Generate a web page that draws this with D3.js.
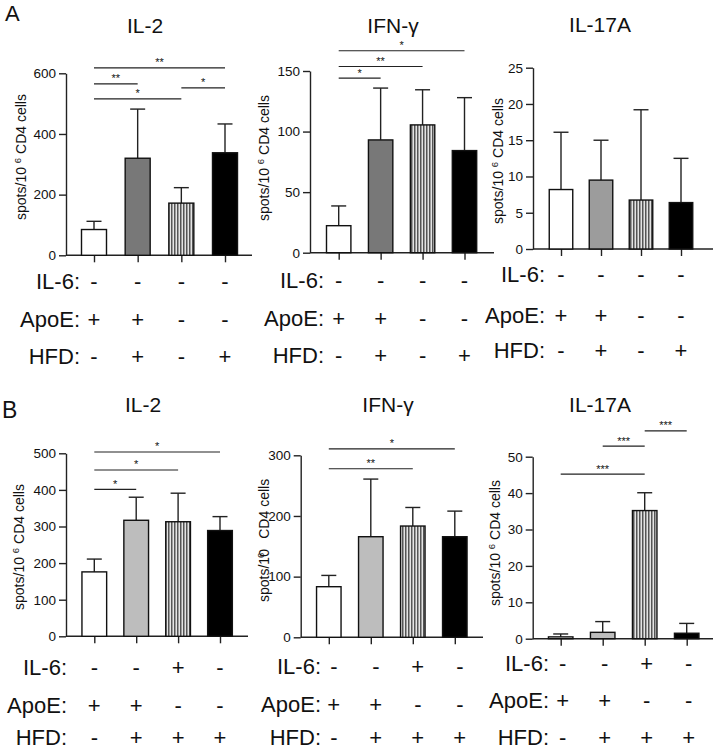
<!DOCTYPE html>
<html><head><meta charset="utf-8">
<script src="https://cdn.jsdelivr.net/npm/d3@7"></script>
<style>body{margin:0;background:#fff}svg{display:block}text{font-family:"Liberation Sans",Arial,Helvetica,sans-serif;fill:#111}</style>
</head><body>
<script>
// ---------- data ----------
const groups = ["g1", "g2", "g3", "g4"];
const titles = ["IL-2", "IFN-γ", "IL-17A"];
const rowNames = ["IL-6:", "ApoE:", "HFD:"];

const aIL2Mean = [85, 320, 172, 338];
const aIL2Sd = [27, 162, 51, 95];
const aIFNMean = [22.3, 93.1, 105.5, 84.3];
const aIFNSd = [16.3, 42.8, 29, 43.7];
const aIL17Mean = [8.2, 9.5, 6.75, 6.4];
const aIL17Sd = [7.9, 5.5, 12.45, 6.1];

const bIL2Mean = [176, 317, 313, 289];
const bIL2Sd = [35, 63, 78, 38];
const bIFNMean = [83.4, 165.8, 183.4, 165.8];
const bIFNSd = [18.6, 95, 30.6, 42.2];
const bIL17Mean = [0.5, 1.75, 35.2, 1.5];
const bIL17Sd = [0.8, 2.95, 4.9, 2.7];

const aIL2Ticks = [0, 200, 400, 600];
const aIFNTicks = [0, 50, 100, 150];
const aIL17Ticks = [0, 5, 10, 15, 20, 25];
const bIL2Ticks = [0, 100, 200, 300, 400, 500];
const bIFNTicks = [0, 100, 200, 300];
const bIL17Ticks = [0, 10, 20, 30, 40, 50];

const aIL6 = ["-", "-", "-", "-"];
const aApoE = ["+", "+", "-", "-"];
const aHFD = ["-", "+", "-", "+"];
const bIL6 = ["-", "-", "+", "-"];
const bApoE = ["+", "+", "-", "-"];
const bHFD = ["-", "+", "+", "+"];

// significance brackets: [from group, to group, height in data units, label]
const aIL2Sig = [[0, 3, 618, "**"], [0, 1, 565, "**"], [0, 2, 516, "*"], [2, 3, 552, "*"]];
const aIFNSig = [[0, 3, 166.7, "*"], [0, 2, 153.7, "**"], [0, 1, 144.1, "*"]];
const aIL17Sig = [];
const bIL2Sig = [[0, 3, 503.6, "*"], [0, 2, 454.4, "*"], [0, 1, 401.6, "*"]];
const bIFNSig = [[0, 3, 310.7, "*"], [0, 2, 277.8, "**"]];
const bIL17Sig = [[0, 2, 45.2, "***"], [1, 2, 52.9, "***"], [2, 3, 57.1, "***"]];

// ---------- layout ----------
const W = 715, H = 750;
const svg = d3.select("body").append("svg").attr("width", W).attr("height", H);
const defs = svg.append("defs");
const pat = defs.append("pattern").attr("id", "stripes").attr("patternUnits", "userSpaceOnUse")
  .attr("width", 3).attr("height", 10);
pat.append("rect").attr("width", 3).attr("height", 10).attr("fill", "#e4e4e4");
pat.append("rect").attr("width", 1.5).attr("height", 10).attr("fill", "#555");

const charts = [
  {title: titles[0], mean: aIL2Mean, sd: aIL2Sd, ticks: aIL2Ticks, sig: aIL2Sig, rows: [aIL6, aApoE, aHFD],
   ax: 66, y0: 255.3, yTop: 73.3, c1: 94, c4: 225, bw: 25, xEnd: 252, fill2: "#787878",
   titleX: 145, titleY: 33, ylab: {x: 26, y: 157}, labEnd: 80, signDx: 0, rowY: [289, 327, 363.5]},
  {title: titles[1], mean: aIFNMean, sd: aIFNSd, ticks: aIFNTicks, sig: aIFNSig, rows: [aIL6, aApoE, aHFD],
   ax: 310, y0: 252.7, yTop: 71, c1: 338.7, c4: 464.5, bw: 24.4, xEnd: 494, fill2: "#787878",
   titleX: 393, titleY: 33, ylab: {x: 269, y: 158}, labEnd: 324, signDx: 0, rowY: [288, 326, 362.5]},
  {title: titles[2], mean: aIL17Mean, sd: aIL17Sd, ticks: aIL17Ticks, sig: aIL17Sig, rows: [aIL6, aApoE, aHFD],
   ax: 533, y0: 249, yTop: 67.7, c1: 561, c4: 681, bw: 23.5, xEnd: 713, fill2: "#9c9c9c",
   titleX: 600, titleY: 32, ylab: {x: 503, y: 161}, labEnd: 545, signDx: 0, rowY: [281.5, 322.5, 357.5]},
  {title: titles[0], mean: bIL2Mean, sd: bIL2Sd, ticks: bIL2Ticks, sig: bIL2Sig, rows: [bIL6, bApoE, bHFD],
   ax: 66, y0: 636.3, yTop: 453.3, c1: 94.3, c4: 220, bw: 24.7, xEnd: 248, fill2: "#bdbdbd",
   titleX: 143, titleY: 412, ylab: {x: 24, y: 547}, labEnd: 67, signDx: 0, rowY: [675, 712.5, 745]},
  {title: titles[1], mean: bIFNMean, sd: bIFNSd, ticks: bIFNTicks, sig: bIFNSig, rows: [bIL6, bApoE, bHFD],
   ax: 300.7, y0: 637.3, yTop: 455.3, c1: 328.8, c4: 454.8, bw: 24.5, xEnd: 483, fill2: "#bdbdbd",
   titleX: 388, titleY: 412, ylab: {x: 269, y: 602, broken: true}, labEnd: 321, signDx: 5, rowY: [674, 711.5, 745]},
  {title: titles[2], mean: bIL17Mean, sd: bIL17Sd, ticks: bIL17Ticks, sig: bIL17Sig, rows: [bIL6, bApoE, bHFD],
   ax: 532.7, y0: 638.7, yTop: 456.7, c1: 560.7, c4: 686.7, bw: 24.5, xEnd: 713, fill2: "#bdbdbd",
   titleX: 600, titleY: 412, ylab: {x: 500, y: 543}, labEnd: 549, signDx: 2, rowY: [671, 708, 744.5]}
];

const ink = "#222";

charts.forEach(c => {
  const yMax = c.ticks[c.ticks.length - 1];
  const y = d3.scaleLinear().domain([0, yMax]).range([c.y0, c.yTop]);
  const x = d3.scalePoint().domain(groups).range([c.c1, c.c4]);
  const g = svg.append("g");
  const fills = ["#ffffff", c.fill2, "url(#stripes)", "#000000"];

  // title
  g.append("text").attr("x", c.titleX).attr("y", c.titleY).attr("text-anchor", "middle")
    .attr("font-size", 21).text(c.title);

  // y axis
  const yAxis = d3.axisLeft(y).tickValues(c.ticks).tickSize(7).tickPadding(3).tickSizeOuter(0);
  const ga = g.append("g").attr("transform", `translate(${c.ax},0)`).call(yAxis);
  ga.selectAll("path, line").attr("stroke", ink).attr("stroke-width", 1.4);
  ga.selectAll("text").attr("font-size", 13.5).attr("fill", "#111")
    .attr("font-family", '"Liberation Sans",Arial,sans-serif');

  // x axis
  g.append("line").attr("x1", c.ax).attr("x2", c.xEnd).attr("y1", c.y0).attr("y2", c.y0)
    .attr("stroke", ink).attr("stroke-width", 1.4);
  const xAxis = d3.axisBottom(x).tickSize(7).tickFormat("");
  const gx = g.append("g").attr("transform", `translate(0,${c.y0})`).call(xAxis);
  gx.select(".domain").remove();
  gx.selectAll("line").attr("stroke", ink).attr("stroke-width", 1.4);

  // y label
  const yl = g.append("text").attr("font-size", 14)
    .attr("transform", `translate(${c.ylab.x},${c.ylab.y}) rotate(-90)`);
  if (c.ylab.broken) {
    yl.attr("text-anchor", "start");
    yl.append("tspan").text("spots/10");
    yl.append("tspan").attr("dx", -9).attr("dy", -5).attr("font-size", 9.5).text("6");
    yl.append("tspan").attr("dx", 14).attr("dy", 5).text("CD4 cells");
  } else {
    yl.attr("text-anchor", "middle");
    yl.append("tspan").text("spots/10 ");
    yl.append("tspan").attr("dy", -5).attr("font-size", 9.5).text("6");
    yl.append("tspan").attr("dy", 5).text(" CD4 cells");
  }

  // error bars (upper)
  g.selectAll(".err").data(groups).join("g").each(function (d, i) {
    const e = d3.select(this);
    const top = y(c.mean[i] + c.sd[i]);
    e.append("line").attr("x1", x(d)).attr("x2", x(d)).attr("y1", y(c.mean[i])).attr("y2", top)
      .attr("stroke", ink).attr("stroke-width", 1.4);
    e.append("line").attr("x1", x(d) - 7.5).attr("x2", x(d) + 7.5).attr("y1", top).attr("y2", top)
      .attr("stroke", ink).attr("stroke-width", 1.4);
  });

  // bars
  g.selectAll(".bar").data(groups).join("rect")
    .attr("x", d => x(d) - c.bw / 2).attr("width", c.bw)
    .attr("y", (d, i) => y(c.mean[i])).attr("height", (d, i) => y(0) - y(c.mean[i]))
    .attr("fill", (d, i) => fills[i]).attr("stroke", "#111").attr("stroke-width", 1.4);

  // significance
  c.sig.forEach(s => {
    const yy = y(s[2]);
    g.append("line").attr("x1", x(groups[s[0]])).attr("x2", x(groups[s[1]]))
      .attr("y1", yy).attr("y2", yy).attr("stroke", ink).attr("stroke-width", 1.2);
    g.append("text").attr("x", (x(groups[s[0]]) + x(groups[s[1]])) / 2).attr("y", yy - 1.5)
      .attr("text-anchor", "middle").attr("font-size", 11).attr("fill", "#000").text(s[3]);
  });

  // condition table
  c.rows.forEach((row, r) => {
    g.append("text").attr("x", c.labEnd).attr("y", c.rowY[r]).attr("text-anchor", "end")
      .attr("font-size", 22).text(rowNames[r]);
    g.selectAll(null).data(groups).join("text")
      .attr("x", d => x(d) + c.signDx).attr("y", c.rowY[r]).attr("text-anchor", "middle")
      .attr("font-size", 22).text((d, i) => row[i]);
  });
});

// panel letters
svg.append("text").attr("x", 5).attr("y", 21).attr("font-size", 22).text("A");
svg.append("text").attr("x", 2).attr("y", 418).attr("font-size", 23).text("B");
</script>
</body></html>
